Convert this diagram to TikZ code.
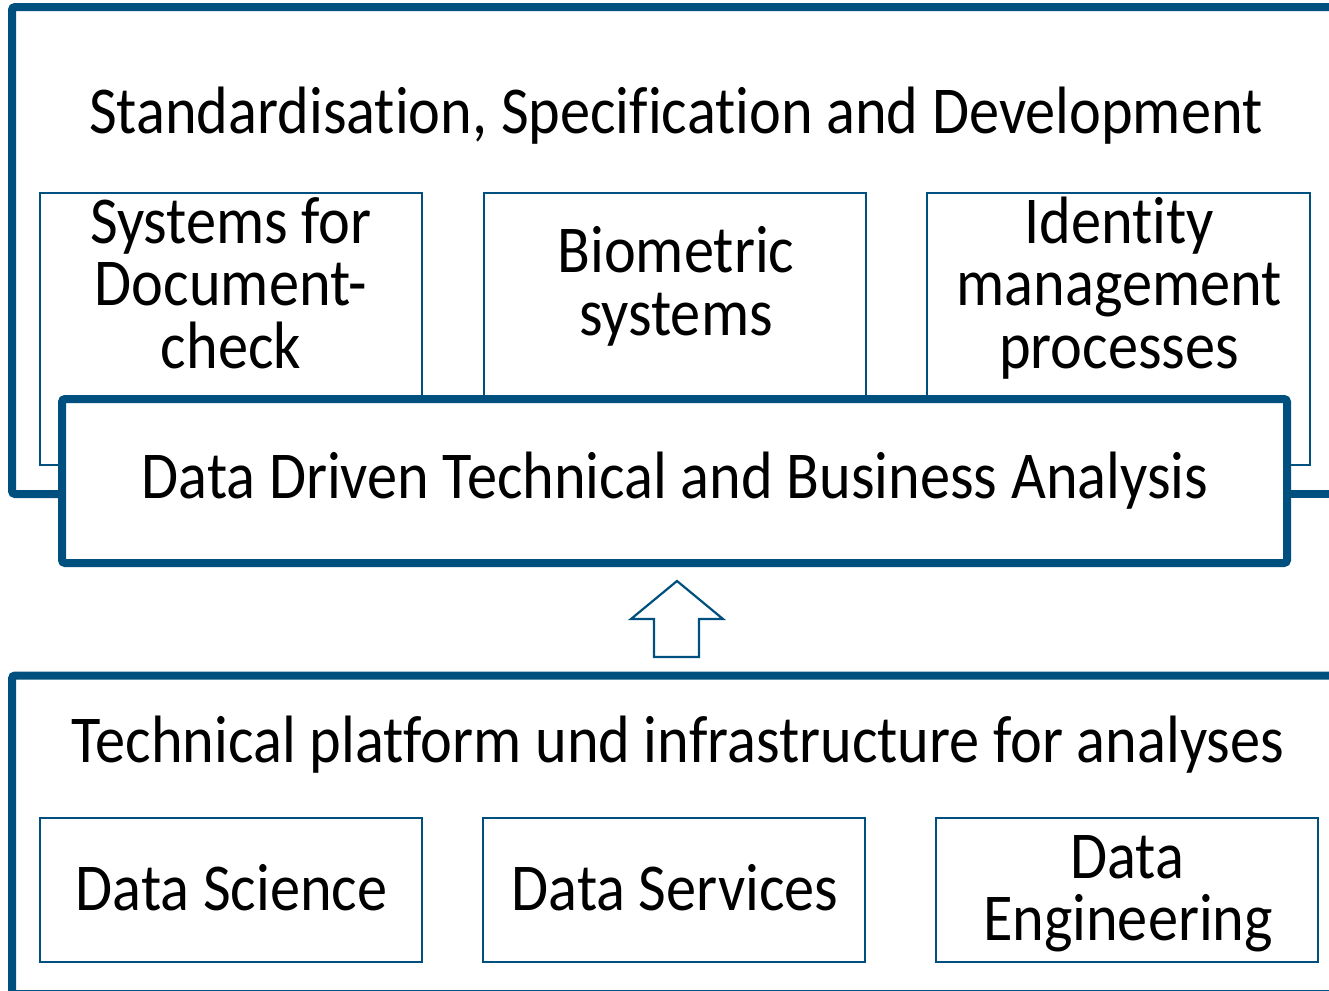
\documentclass[tikz,border=0pt]{standalone}
\usepackage{fontspec}
\setmainfont{Carlito}[FakeStretch=0.9, Ligatures=NoCommon]
\usetikzlibrary{fit}
\definecolor{bsiblue}{HTML}{00507F}
\tikzset{
  frame/.style={draw=bsiblue, line width=4pt, rounded corners=1.5pt},
  thinbox/.style={draw=bsiblue, line width=1.1pt, inner sep=0pt, fill=white},
  thickbox/.style={draw=bsiblue, line width=4pt, inner sep=0pt, fill=white, rounded corners=1.5pt},
  lbl/.style={anchor=base, inner sep=0pt, font=\fontsize{33.5}{33.5}\selectfont},
}
\begin{document}
\begin{tikzpicture}[x=0.5pt,y=-0.5pt]
\useasboundingbox (0,0) rectangle (1329,991);
% top frame
\draw[frame] (1345,7) -- (12,7) -- (12,494) -- (62,494);
\draw[frame] (1287,494) -- (1345,494);
\node[lbl] (title) at (676,133) {Standardisation, Specification and Development};
% top boxes
\node[thinbox, fit={(40,193) (422,465)}] (doc) {};
\node[thinbox, fit={(484,193) (866,465)}] (bio) {};
\node[thinbox, fit={(927,193) (1310,465)}] (idm) {};
\node[lbl] (doc1) at (231,243) {Systems for};
\node[lbl] (doc2) at (231,305) {Document-};
\node[lbl] (doc3) at (231,368) {check};
\node[lbl] (bio1) at (676,272) {Biometric};
\node[lbl] (bio2) at (676,335) {systems};
\node[lbl] (idm1) at (1119,243) {Identity};
\node[lbl] (idm2) at (1119,305) {management};
\node[lbl] (idm3) at (1119,368) {processes};
% analysis box
\node[thickbox, fit={(62,399) (1287,563)}] (dda) {};
\node[lbl] (ddat) at (675,498) {Data Driven Technical and Business Analysis};
% block arrow
\draw[bsiblue, line width=1.1pt, line join=miter] (677,581) -- (723,619) -- (699,619) -- (699,657) -- (654,657) -- (654,619) -- (631,619) -- cycle;
% bottom frame
\draw[frame] (1345,675.5) -- (12,675.5) -- (12,994) -- (1345,994);
\node[lbl] (plat) at (678,762) {Technical platform und infrastructure for analyses};
\node[thinbox, fit={(40,818) (422,962)}] (ds) {};
\node[thinbox, fit={(483,818) (865,962)}] (dsv) {};
\node[thinbox, fit={(936,818) (1318,962)}] (de) {};
\node[lbl] (dst) at (231.5,910) {Data Science};
\node[lbl] (dsvt) at (675,910) {Data Services};
\node[lbl] (de1) at (1127,878) {Data};
\node[lbl] (de2) at (1128,940) {Engineering};
\end{tikzpicture}
\end{document}
